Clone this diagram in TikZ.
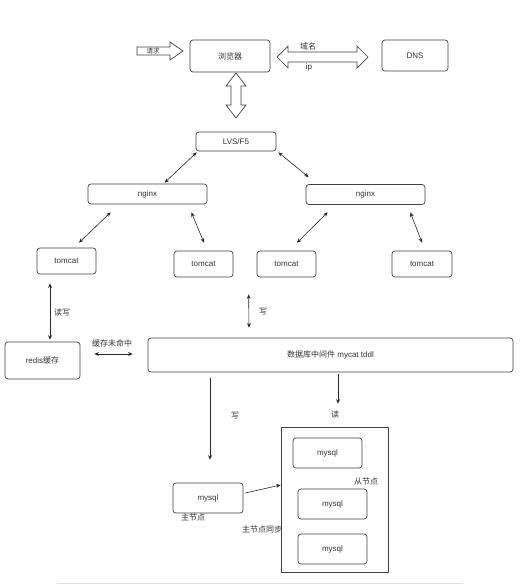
\documentclass[tikz,border=0pt]{standalone}
\usepackage{fontspec}
\setmainfont{Liberation Sans}
\newfontfamily\cjk{Noto Sans CJK SC}
\usetikzlibrary{arrows.meta,calc}

\begin{document}
\begin{tikzpicture}[x=1pt, y=-1pt, every node/.style={font=\fontsize{8}{9}\selectfont, text=black!80}]
\useasboundingbox (0,0) rectangle (532,584);
\tikzset{
    bx/.style={draw=black!75, line width=0.7pt, rounded corners=3pt, inner sep=0pt},
    blk/.style={draw=black!75, line width=0.7pt, fill=white, line join=miter},
    lk/.style={black!85, line width=0.6pt, {Stealth[length=4.5pt,width=3.8pt]}-{Stealth[length=4.5pt,width=3.8pt]}},
    lkone/.style={black!85, line width=0.6pt, -{Stealth[length=4.5pt,width=3.8pt]}}
}
% --- browser e DNS ---
\node[bx, minimum width=80pt, minimum height=32pt] (browser) at (230,56) {\cjk 浏览器};
\node[bx, minimum width=66pt, minimum height=31pt] (dns) at (415,55.5) {DNS};
% frecce a blocco
\draw[blk] (137,47) -- (170,47) -- (170,42) -- (183,51) -- (170,60) -- (170,55) -- (137,55) -- cycle;
\node[font=\cjk\fontsize{6.5}{7}\selectfont, inner sep=0.5pt] (req) at (153,51) {请求};
\draw[blk] (277,57) -- (288,46) -- (288,52) -- (357,52) -- (357,46) -- (368,57)
    -- (357,68) -- (357,62) -- (288,62) -- (288,68) -- cycle;
\node[anchor=south, inner sep=1pt] (lbldom) at (308,51) {\cjk 域名};
\node[anchor=north, inner sep=1pt] (lblip) at (309,62.5) {ip};
\draw[blk] (236,73) -- (246,86) -- (241,86) -- (241,105) -- (246,105) -- (236,118)
    -- (226,105) -- (231,105) -- (231,86) -- (226,86) -- cycle;
% --- LVS, nginx, tomcat ---
\node[bx, minimum width=80pt, minimum height=19pt] (lvs) at (236,141.5) {LVS/F5};
\node[bx, minimum width=119pt, minimum height=20pt] (ngxL) at (147.5,194) {nginx};
\node[bx, minimum width=119pt, minimum height=20pt] (ngxR) at (365.5,194.5) {nginx};
\node[bx, minimum width=59pt, minimum height=26pt] (tc1) at (66.5,261) {tomcat};
\node[bx, minimum width=59pt, minimum height=26pt] (tc2) at (203.5,264) {tomcat};
\node[bx, minimum width=59pt, minimum height=26pt] (tc3) at (286.5,264) {tomcat};
\node[bx, minimum width=60pt, minimum height=26pt] (tc4) at (422,264) {tomcat};
\draw[lk] ($(lvs.south west)+(1,1)$) -- ($(ngxL.north west)+(77,-1)$);
\draw[lk] ($(lvs.south east)+(2,1)$) -- ($(ngxR.north west)+(3,-7)$);
\draw[lk] ($(ngxL.south west)+(23,8)$) -- ($(tc1.north)+(12.5,-5)$);
\draw[lk] ($(ngxL.south east)+(-16,8)$) -- ($(tc2.north)+(0.5,-8)$);
\draw[lk] ($(ngxR.south west)+(22,7.5)$) -- ($(tc3.north)+(10.5,-8)$);
\draw[lk] ($(ngxR.south east)+(-15,7.5)$) -- ($(tc4.north)+(0,-8)$);
% --- redis e mycat ---
\node[bx, minimum width=75pt, minimum height=37pt] (redis) at (42.5,360.5) {redis{\cjk 缓存}};
\node[bx, minimum width=365pt, minimum height=34pt] (mycat) at (330.5,355) {{\cjk 数据库中间件} mycat tddl};
\draw[lk] ($(tc1.south)+(-16.5,9)$) -- ($(redis.north)+(7.5,-2)$);
\node (lblrw) at (62,312) {\cjk 读写};
\draw[lk] ($(redis.east)+(14,-6.5)$) -- ($(mycat.west)+(-15,-1)$);
\node (lblmiss) at (112,343) {\cjk 缓存未命中};
\draw[lk] ($(tc3.south west)+(-8,17)$) -- ($(mycat.north)+(-81.5,-10)$);
\node (lblw) at (263,312) {\cjk 写};
% --- mysql ---
\node[bx, minimum width=70pt, minimum height=30pt] (master) at (208,498) {mysql};
\node[draw=black!75, line width=0.7pt, minimum width=107pt, minimum height=145pt, inner sep=0pt] (slaves) at (334.5,499.5) {};
\node[bx, minimum width=69pt, minimum height=30pt] (sl1) at (327.5,453) {mysql};
\node[bx, minimum width=69pt, minimum height=30pt] (sl2) at (332.5,504) {mysql};
\node[bx, minimum width=69pt, minimum height=30pt] (sl3) at (332.5,549) {mysql};
\draw[lkone] ($(mycat.south)+(-120.5,6)$) -- ($(master.north)+(2,-23)$);
\node (lblw2) at (235,416) {\cjk 写};
\draw[lkone] ($(mycat.south)+(7.5,2)$) -- ($(slaves.north)+(3.5,-23)$);
\node (lblr) at (335,414) {\cjk 读};
\draw[lkone] ($(master.east)+(2,-5)$) -- ($(slaves.west)+(0,-14.5)$);
\node (lblmaster) at (193,517) {\cjk 主节点};
\node (lblslave) at (366,481) {\cjk 从节点};
\node (lblsync) at (262,529) {\cjk 主节点同步};
\draw[black!12, line width=1pt] (57,583) -- (463,583);
\end{tikzpicture}
\end{document}
